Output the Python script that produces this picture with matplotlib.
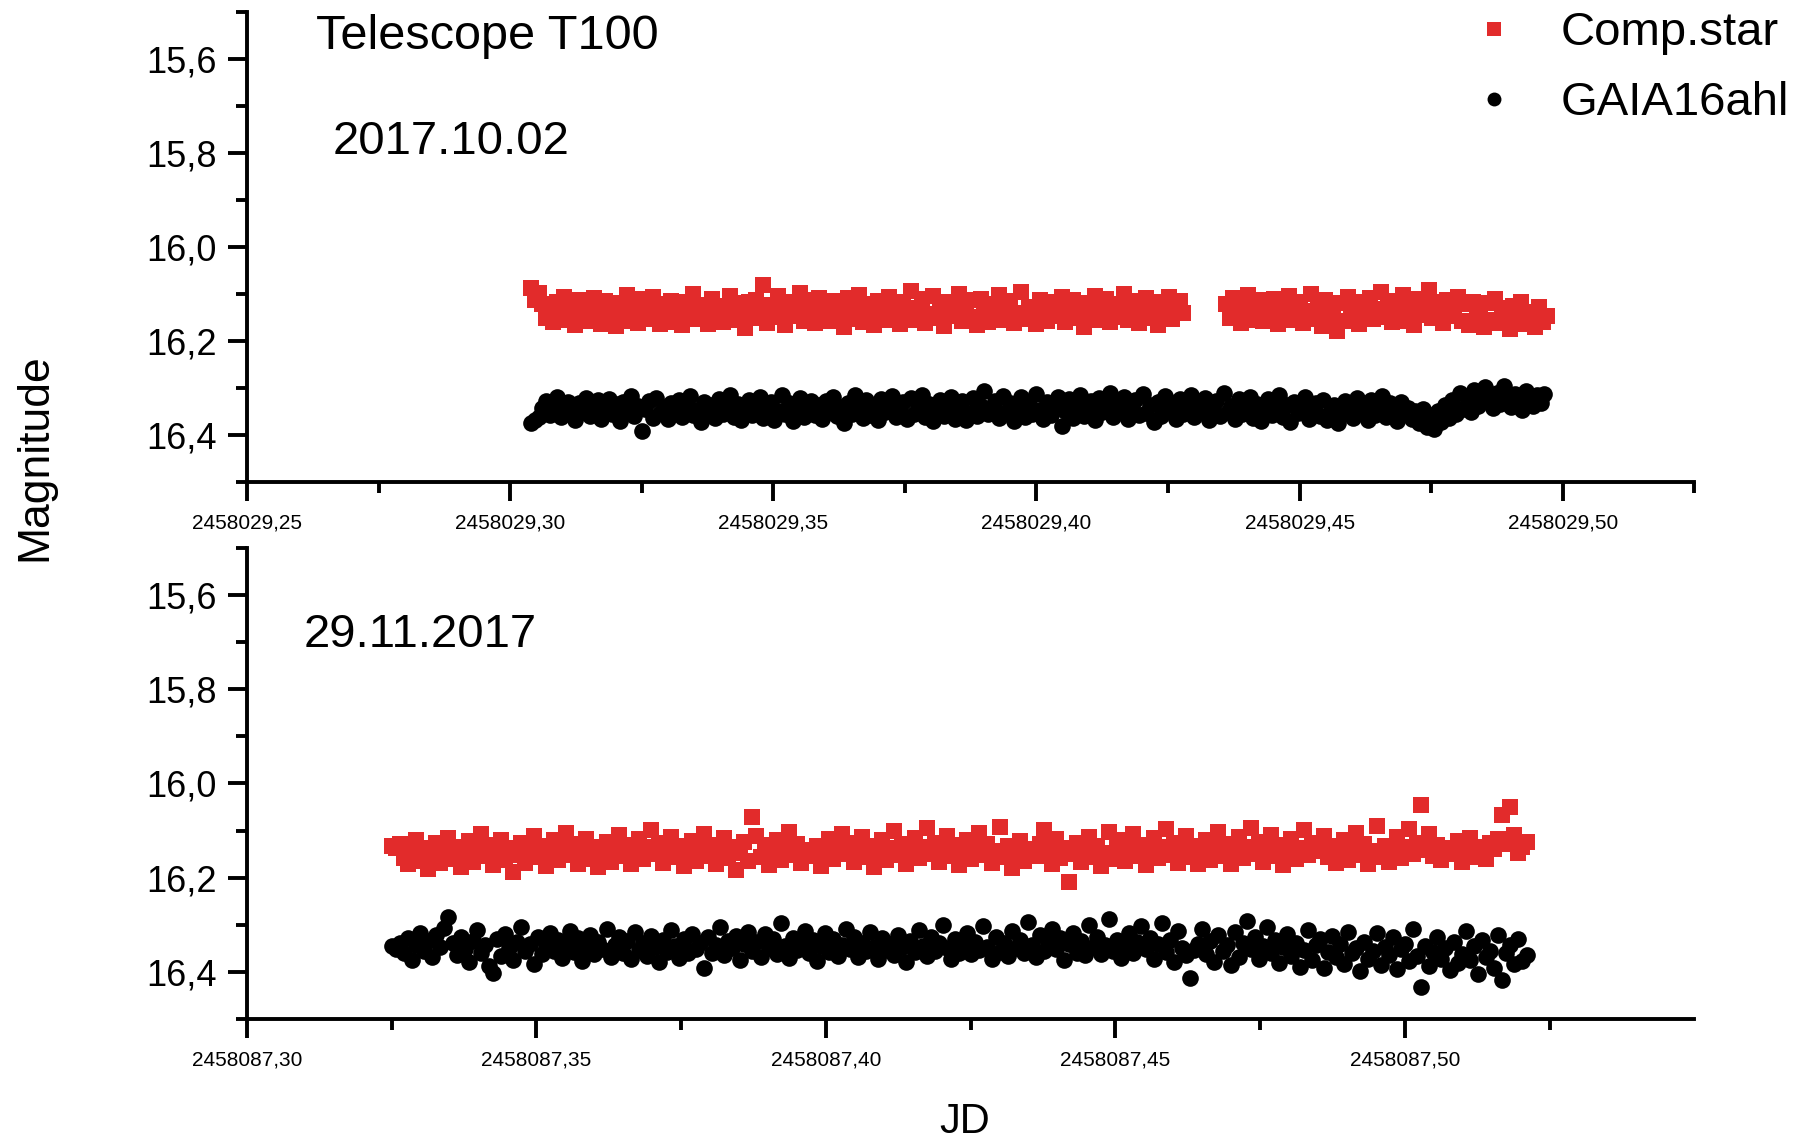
import numpy as np
import matplotlib
matplotlib.use("Agg")
import matplotlib.pyplot as plt
from matplotlib.ticker import MultipleLocator, FuncFormatter
from matplotlib.lines import Line2D

plt.rcParams['font.family'] = ['Liberation Sans', 'DejaVu Sans']

RED = '#e22b2b'

# frames were taken every 0.0007 d on both nights
cadence = 0.0007

# --- night 1: 2017.10.02 (JD 2458029.xx) ---
n1_comp_start_a = 2458029.304
n1_comp_a = [
    16.088, 16.112, 16.097, 16.121, 16.152, 16.128, 16.160, 16.117, 16.143, 16.106, 16.155, 16.132, 16.167, 16.113, 16.147, 16.125, 16.158, 16.109, 16.139, 16.163,
    16.115, 16.150, 16.129, 16.168, 16.119, 16.145, 16.103, 16.157, 16.127, 16.162, 16.111, 16.141, 16.153, 16.107, 16.136, 16.164, 16.122, 16.149, 16.114, 16.159,
    16.131, 16.166, 16.118, 16.146, 16.101, 16.154, 16.124, 16.140, 16.163, 16.110, 16.148, 16.126, 16.160, 16.134, 16.105, 16.156, 16.120, 16.143, 16.172, 16.116,
    16.151, 16.113, 16.137, 16.080, 16.161, 16.123, 16.149, 16.104, 16.138, 16.165, 16.117, 16.146, 16.128, 16.098, 16.157, 16.133, 16.112, 16.162, 16.109, 16.144,
    16.126, 16.158, 16.114, 16.150, 16.135, 16.171, 16.108, 16.153, 16.130, 16.102, 16.160, 16.121, 16.145, 16.166, 16.115, 16.139, 16.155, 16.106, 16.148, 16.124,
    16.163, 16.118, 16.141, 16.094, 16.156, 16.129, 16.111, 16.162, 16.143, 16.105, 16.152, 16.134, 16.169, 16.116, 16.147, 16.125, 16.100, 16.158, 16.137, 16.113,
    16.150, 16.166, 16.110, 16.139, 16.159, 16.122, 16.148, 16.103, 16.155, 16.131, 16.114, 16.161, 16.140, 16.096, 16.153, 16.127, 16.145, 16.164, 16.112, 16.137,
    16.157, 16.117, 16.146, 16.129, 16.106, 16.160, 16.135, 16.113, 16.151, 16.124, 16.170, 16.119, 16.142, 16.104, 16.155, 16.132, 16.110, 16.159, 16.138, 16.121,
    16.148, 16.101, 16.156, 16.130, 16.115, 16.162, 16.140, 16.109, 16.152, 16.126, 16.165, 16.118, 16.145, 16.107, 16.154, 16.133, 16.114, 16.141,
]
n1_comp_start_b = 2458029.436
n1_comp_b = [
    16.122, 16.152, 16.108, 16.140, 16.161, 16.126, 16.102, 16.155, 16.134, 16.113, 16.158, 16.129, 16.147, 16.110, 16.164, 16.123, 16.143, 16.105, 16.156, 16.131,
    16.116, 16.162, 16.137, 16.100, 16.153, 16.125, 16.168, 16.112, 16.146, 16.135, 16.178, 16.119, 16.157, 16.106, 16.150, 16.128, 16.163, 16.117, 16.142, 16.109,
    16.154, 16.133, 16.096, 16.148, 16.121, 16.160, 16.114, 16.140, 16.103, 16.157, 16.130, 16.166, 16.111, 16.145, 16.124, 16.092, 16.152, 16.118, 16.139, 16.161,
    16.113, 16.147, 16.132, 16.107, 16.158, 16.122, 16.167, 16.116, 16.151, 16.136, 16.171, 16.120, 16.155, 16.110, 16.162, 16.129, 16.144, 16.174, 16.125, 16.157,
    16.117, 16.164, 16.138, 16.149, 16.170, 16.127, 16.159, 16.146,
]
n1_gaia_start = 2458029.304
n1_gaia = [
    16.374, 16.369, 16.361, 16.343, 16.328, 16.357, 16.336, 16.319, 16.362, 16.341, 16.330, 16.355, 16.368, 16.332, 16.351, 16.322, 16.360, 16.339, 16.326, 16.365,
    16.347, 16.324, 16.356, 16.335, 16.371, 16.329, 16.352, 16.317, 16.359, 16.338, 16.392, 16.344, 16.327, 16.363, 16.321, 16.354, 16.340, 16.367, 16.331, 16.350,
    16.325, 16.361, 16.342, 16.318, 16.357, 16.346, 16.373, 16.330, 16.352, 16.336, 16.364, 16.323, 16.355, 16.341, 16.316, 16.362, 16.334, 16.369, 16.348, 16.326,
    16.358, 16.339, 16.320, 16.363, 16.345, 16.329, 16.368, 16.350, 16.314, 16.356, 16.333, 16.370, 16.343, 16.322, 16.361, 16.348, 16.327, 16.357, 16.337, 16.366,
    16.328, 16.352, 16.319, 16.360, 16.341, 16.374, 16.332, 16.355, 16.316, 16.347, 16.363, 16.326, 16.357, 16.336, 16.368, 16.323, 16.351, 16.342, 16.318, 16.361,
    16.348, 16.330, 16.366, 16.322, 16.356, 16.343, 16.315, 16.362, 16.335, 16.371, 16.350, 16.325, 16.359, 16.339, 16.320, 16.365, 16.346, 16.328, 16.369, 16.353,
    16.321, 16.360, 16.338, 16.306, 16.355, 16.342, 16.327, 16.364, 16.318, 16.351, 16.333, 16.370, 16.345, 16.320, 16.361, 16.336, 16.356, 16.313, 16.347, 16.367,
    16.329, 16.358, 16.341, 16.319, 16.381, 16.350, 16.324, 16.363, 16.337, 16.315, 16.359, 16.346, 16.328, 16.368, 16.322, 16.352, 16.340, 16.310, 16.362, 16.334,
    16.349, 16.320, 16.365, 16.343, 16.326, 16.358, 16.312, 16.353, 16.336, 16.372, 16.329, 16.360, 16.318, 16.347, 16.333, 16.366, 16.323, 16.356, 16.341, 16.316,
    16.362, 16.330, 16.351, 16.321, 16.369, 16.345, 16.327, 16.359, 16.311, 16.352, 16.338, 16.366, 16.324, 16.355, 16.343, 16.319, 16.363, 16.334, 16.370, 16.348,
    16.323, 16.358, 16.341, 16.316, 16.362, 16.336, 16.373, 16.329, 16.354, 16.346, 16.320, 16.365, 16.348, 16.331, 16.359, 16.325, 16.368, 16.350, 16.337, 16.374,
    16.353, 16.328, 16.345, 16.364, 16.322, 16.351, 16.339, 16.369, 16.326, 16.357, 16.344, 16.318, 16.362, 16.333, 16.349, 16.371, 16.330, 16.356, 16.342, 16.366,
    16.350, 16.375, 16.344, 16.383, 16.358, 16.388, 16.349, 16.372, 16.336, 16.364, 16.325, 16.356, 16.311, 16.345, 16.320, 16.352, 16.304, 16.338, 16.317, 16.298,
    16.326, 16.343, 16.310, 16.334, 16.295, 16.322, 16.340, 16.313, 16.331, 16.347, 16.306, 16.328, 16.338, 16.316, 16.333, 16.312,
]

# --- night 2: 29.11.2017 (JD 2458087.xx) ---
n2_start = 2458087.325
n2_comp = [
    16.132, 16.136, 16.129, 16.158, 16.172, 16.147, 16.120, 16.165, 16.138, 16.181, 16.153, 16.126, 16.169, 16.142, 16.115, 16.160, 16.134, 16.177, 16.148, 16.123,
    16.166, 16.139, 16.108, 16.155, 16.130, 16.174, 16.145, 16.119, 16.162, 16.136, 16.189, 16.151, 16.127, 16.168, 16.141, 16.112, 16.157, 16.133, 16.175, 16.146,
    16.121, 16.163, 16.137, 16.105, 16.152, 16.129, 16.171, 16.143, 16.117, 16.160, 16.134, 16.178, 16.149, 16.124, 16.166, 16.140, 16.110, 16.155, 16.131, 16.172,
    16.144, 16.118, 16.161, 16.135, 16.099, 16.150, 16.127, 16.168, 16.142, 16.114, 16.157, 16.133, 16.176, 16.147, 16.122, 16.164, 16.138, 16.107, 16.153, 16.130,
    16.170, 16.143, 16.116, 16.159, 16.134, 16.183, 16.148, 16.125, 16.165, 16.072, 16.111, 16.156, 16.131, 16.173, 16.146, 16.120, 16.162, 16.137, 16.103, 16.151,
    16.128, 16.169, 16.141, 16.141, 16.154, 16.132, 16.175, 16.145, 16.118, 16.160, 16.136, 16.108, 16.150, 16.127, 16.167, 16.142, 16.114, 16.157, 16.133, 16.178,
    16.147, 16.121, 16.163, 16.138, 16.101, 16.152, 16.129, 16.171, 16.144, 16.116, 16.158, 16.134, 16.095, 16.149, 16.126, 16.166, 16.140, 16.112, 16.155, 16.131,
    16.174, 16.146, 16.119, 16.161, 16.137, 16.106, 16.152, 16.128, 16.169, 16.143, 16.092, 16.157, 16.133, 16.180, 16.148, 16.123, 16.164, 16.139, 16.150, 16.153,
    16.129, 16.098, 16.145, 16.170, 16.118, 16.159, 16.136, 16.210, 16.150, 16.126, 16.167, 16.141, 16.113, 16.156, 16.132, 16.176, 16.147, 16.104, 16.161, 16.137,
    16.121, 16.165, 16.140, 16.108, 16.154, 16.130, 16.173, 16.146, 16.116, 16.159, 16.135, 16.097, 16.151, 16.127, 16.168, 16.143, 16.111, 16.157, 16.133, 16.172,
    16.145, 16.119, 16.162, 16.137, 16.102, 16.153, 16.128, 16.170, 16.142, 16.114, 16.158, 16.134, 16.094, 16.149, 16.125, 16.166, 16.140, 16.109, 16.155, 16.131,
    16.174, 16.146, 16.117, 16.160, 16.136, 16.099, 16.151, 16.127, 16.139, 16.143, 16.112, 16.157, 16.133, 16.169, 16.148, 16.121, 16.163, 16.138, 16.105, 16.152,
    16.129, 16.171, 16.144, 16.091, 16.156, 16.132, 16.167, 16.140, 16.113, 16.158, 16.134, 16.097, 16.150, 16.126, 16.046, 16.141, 16.108, 16.154, 16.130, 16.162,
    16.137, 16.142, 16.149, 16.123, 16.166, 16.144, 16.115, 16.157, 16.139, 16.135, 16.160, 16.126, 16.140, 16.118, 16.068, 16.128, 16.050, 16.110, 16.147, 16.134,
    16.125,
]
n2_gaia = [
    16.345, 16.352, 16.338, 16.361, 16.329, 16.374, 16.343, 16.317, 16.356, 16.335, 16.369, 16.322, 16.348, 16.307, 16.283, 16.339, 16.365, 16.326, 16.352, 16.378,
    16.334, 16.312, 16.359, 16.343, 16.387, 16.402, 16.331, 16.366, 16.320, 16.350, 16.374, 16.337, 16.305, 16.356, 16.341, 16.383, 16.325, 16.362, 16.346, 16.318,
    16.355, 16.333, 16.370, 16.340, 16.314, 16.358, 16.328, 16.377, 16.347, 16.321, 16.363, 16.336, 16.351, 16.309, 16.368, 16.342, 16.327, 16.360, 16.335, 16.372,
    16.316, 16.353, 16.339, 16.366, 16.324, 16.348, 16.380, 16.332, 16.357, 16.311, 16.345, 16.371, 16.330, 16.361, 16.319, 16.352, 16.338, 16.392, 16.326, 16.359,
    16.343, 16.304, 16.365, 16.334, 16.350, 16.323, 16.375, 16.341, 16.315, 16.356, 16.337, 16.368, 16.320, 16.349, 16.331, 16.362, 16.297, 16.346, 16.370, 16.328,
    16.354, 16.339, 16.313, 16.360, 16.333, 16.376, 16.345, 16.318, 16.357, 16.330, 16.366, 16.342, 16.308, 16.351, 16.325, 16.369, 16.338, 16.356, 16.315, 16.347,
    16.372, 16.329, 16.353, 16.340, 16.364, 16.321, 16.348, 16.379, 16.334, 16.358, 16.312, 16.345, 16.367, 16.327, 16.355, 16.338, 16.300, 16.350, 16.372, 16.331,
    16.359, 16.343, 16.317, 16.362, 16.336, 16.354, 16.302, 16.347, 16.373, 16.325, 16.357, 16.339, 16.366, 16.314, 16.349, 16.332, 16.361, 16.295, 16.344, 16.368,
    16.322, 16.356, 16.337, 16.310, 16.352, 16.329, 16.374, 16.341, 16.318, 16.360, 16.335, 16.365, 16.300, 16.348, 16.326, 16.363, 16.343, 16.287, 16.355, 16.332,
    16.370, 16.346, 16.318, 16.361, 16.337, 16.303, 16.352, 16.328, 16.372, 16.341, 16.296, 16.357, 16.333, 16.380, 16.313, 16.349, 16.365, 16.412, 16.354, 16.340,
    16.309, 16.362, 16.335, 16.378, 16.321, 16.355, 16.343, 16.386, 16.316, 16.368, 16.339, 16.292, 16.351, 16.327, 16.373, 16.345, 16.305, 16.360, 16.333, 16.381,
    16.347, 16.320, 16.366, 16.338, 16.389, 16.353, 16.312, 16.375, 16.344, 16.330, 16.392, 16.357, 16.324, 16.369, 16.341, 16.383, 16.316, 16.361, 16.349, 16.398,
    16.336, 16.372, 16.355, 16.318, 16.385, 16.347, 16.364, 16.327, 16.394, 16.352, 16.341, 16.377, 16.310, 16.366, 16.432, 16.345, 16.388, 16.358, 16.325, 16.373,
    16.350, 16.396, 16.337, 16.381, 16.362, 16.314, 16.375, 16.346, 16.405, 16.333, 16.368, 16.355, 16.391, 16.322, 16.418, 16.360, 16.343, 16.384, 16.331, 16.376,
    16.365,
]

y_ticks = [15.6, 15.8, 16.0, 16.2, 16.4]


def jd_axis(start, values):
    """Time stamps for a run of frames taken at a fixed cadence."""
    return start + cadence * np.arange(len(values))


def comma(fmt):
    return FuncFormatter(lambda v, pos: format(v, fmt).replace('.', ','))


def style_axes(ax, xlim, xmajor):
    ax.set_xlim(*xlim)
    ax.set_ylim(16.5, 15.5)
    ax.xaxis.set_major_locator(MultipleLocator(xmajor))
    ax.xaxis.set_minor_locator(MultipleLocator(xmajor / 2))
    ax.set_yticks(y_ticks)
    ax.yaxis.set_minor_locator(MultipleLocator(0.1))
    ax.xaxis.set_major_formatter(comma('.2f'))
    ax.yaxis.set_major_formatter(comma('.1f'))
    for side in ('top', 'right'):
        ax.spines[side].set_visible(False)
    for side in ('left', 'bottom'):
        ax.spines[side].set_linewidth(2.8)
    ax.tick_params(which='major', direction='out', length=14, width=2.8)
    ax.tick_params(which='minor', direction='out', length=8, width=2.8)
    ax.tick_params(axis='x', which='major', labelsize=15, pad=9)
    ax.tick_params(axis='y', which='major', labelsize=26, pad=8)


fig = plt.figure(figsize=(18.2, 11.44), dpi=100)
ax1 = fig.add_axes([0.1357, 0.5787, 0.7953, 0.4108])
ax2 = fig.add_axes([0.1357, 0.1093, 0.7953, 0.4117])

mk = dict(linestyle='none', markersize=12, markeredgewidth=0)

# top night
ax1.plot(jd_axis(n1_comp_start_a, n1_comp_a), n1_comp_a, marker='s', color=RED, **mk)
ax1.plot(jd_axis(n1_comp_start_b, n1_comp_b), n1_comp_b, marker='s', color=RED, **mk)
ax1.plot(jd_axis(n1_gaia_start, n1_gaia), n1_gaia, marker='o', color='black', **mk)
style_axes(ax1, (2458029.25, 2458029.525), 0.05)
ax1.text(0.0477, 0.921, 'Telescope T100', transform=ax1.transAxes, fontsize=35, va='baseline')
ax1.text(0.0594, 0.698, '2017.10.02', transform=ax1.transAxes, fontsize=34, va='baseline')

# bottom night
ax2.plot(jd_axis(n2_start, n2_comp), n2_comp, marker='s', color=RED, **mk)
ax2.plot(jd_axis(n2_start, n2_gaia), n2_gaia, marker='o', color='black', **mk)
style_axes(ax2, (2458087.30, 2458087.55), 0.05)
ax2.text(0.0394, 0.790, '29.11.2017', transform=ax2.transAxes, fontsize=34, va='baseline')

fig.text(0.019, 0.60, 'Magnitude', rotation=90, fontsize=32, ha='center', va='center')
fig.text(0.530, 0.019, 'JD', fontsize=30, ha='center', va='center')

handles = [
    Line2D([], [], marker='s', color=RED, linestyle='none', markersize=10, markeredgewidth=0),
    Line2D([], [], marker='o', color='black', linestyle='none', markersize=10, markeredgewidth=0),
]
fig.legend(handles, ['Comp.star', 'GAIA16ahl'], loc='upper left', bbox_to_anchor=(0.808, 0.99),
           frameon=False, fontsize=34, handlelength=1.0, handletextpad=0.9, labelspacing=0.55,
           borderpad=0, borderaxespad=0)

fig.savefig('out.png', dpi=100)
